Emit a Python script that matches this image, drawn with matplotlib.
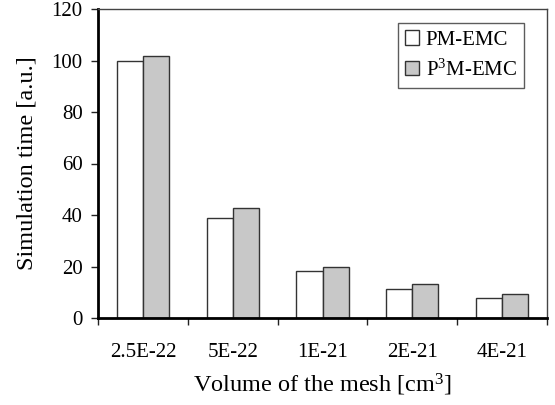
import numpy as np
import matplotlib
matplotlib.use("Agg")
import matplotlib.pyplot as plt

plt.rcParams['font.family'] = ['Liberation Serif', 'DejaVu Serif']
plt.rcParams['mathtext.fontset'] = 'custom'
plt.rcParams['mathtext.rm'] = 'Liberation Serif'
plt.rcParams['mathtext.it'] = 'Liberation Serif:italic'

volumes = ["2.5E-22", "5E-22", "1E-21", "2E-21", "4E-21"]
pm_emc = [100, 38.7, 18.2, 11.4, 7.9]
p3m_emc = [101.7, 42.8, 19.8, 13.1, 9.5]

fig = plt.figure(figsize=(5.55, 4.05), dpi=100)
ax = fig.add_axes([98 / 555, 1 - 318 / 405, (547 - 98) / 555, (318 - 9) / 405])

x = np.arange(len(volumes))
w = 0.29
ax.bar(x - w / 2, pm_emc, w, color='white', edgecolor='#333333', linewidth=1.0,
       label='PM-EMC', zorder=2)
ax.bar(x + w / 2, p3m_emc, w, color='#c8c8c8', edgecolor='#333333', linewidth=1.0,
       label='P$^3$M-EMC', zorder=2)

ax.set_xlim(-0.5, len(volumes) - 0.5)
ax.set_ylim(0, 120)
ax.set_yticks(range(0, 121, 20))

# ticks on category boundaries, labels in the middle
ax.set_xticks(np.arange(-0.5, len(volumes), 1.0))
ax.set_xticklabels([])
ax.set_xticks(x, minor=True)
ax.set_xticklabels(volumes, minor=True)
ax.tick_params(axis='x', which='major', length=5, width=1, color='#222222')
ax.tick_params(axis='x', which='minor', length=0, pad=18, labelsize=15)
ax.tick_params(axis='y', length=5, width=1, labelsize=15, pad=6, color='#222222')

for side in ['left', 'bottom']:
    ax.spines[side].set_linewidth(2.0)
    ax.spines[side].set_color('black')
for side in ['top', 'right']:
    ax.spines[side].set_linewidth(1.0)
    ax.spines[side].set_color('#444444')

ax.set_xlabel("Volume of the mesh [cm$^3$]", fontsize=17.5, labelpad=7)
ax.set_ylabel("Simulation time [a.u.]", fontsize=17.5, labelpad=10)

leg = ax.legend(loc='upper right', bbox_to_anchor=(0.949, 0.955), fontsize=15,
                frameon=True, fancybox=False, edgecolor='#333333',
                handlelength=0.7, handleheight=0.7, handletextpad=0.3,
                borderpad=0.35, labelspacing=0.45, borderaxespad=0.0)
leg.get_frame().set_linewidth(1.0)

plt.savefig("out.png", dpi=100)
plt.close()
